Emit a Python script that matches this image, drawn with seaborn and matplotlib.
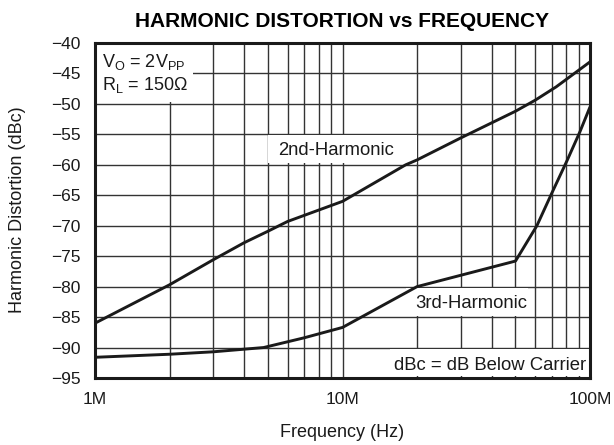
import numpy as np
import pandas as pd
import matplotlib
matplotlib.use("Agg")
import matplotlib.pyplot as plt
from matplotlib.patches import Rectangle
from matplotlib.ticker import FixedLocator, NullFormatter
import seaborn as sns

# values (frequency in MHz, distortion in dBc)
freq_2nd = [1, 2, 3, 4, 5, 6, 10, 18, 20, 30, 50, 60, 73, 100]
hd_2nd = [-86.0, -79.7, -75.6, -72.8, -70.9, -69.3, -66.0, -60.0, -59.2, -55.6, -51.2, -49.4, -47.2, -43.1]

freq_3rd = [1, 2, 3, 4.8, 7, 10, 20, 50, 61, 70, 81, 91, 100]
hd_3rd = [-91.6, -91.1, -90.7, -90.0, -88.4, -86.7, -80.0, -75.8, -70.0, -64.7, -59.2, -54.6, -50.5]

y_ticks = list(range(-40, -96, -5))
x_ticks = [1, 10, 100]
x_tick_labels = ["1M", "10M", "100M"]

df = pd.concat([
    pd.DataFrame({"freq": freq_2nd, "hd": hd_2nd, "series": "2nd"}),
    pd.DataFrame({"freq": freq_3rd, "hd": hd_3rd, "series": "3rd"}),
])

sns.set_style("white")
plt.rcParams["font.family"] = ["Liberation Sans", "DejaVu Sans"]
plt.rcParams["mathtext.fontset"] = "custom"
plt.rcParams["mathtext.rm"] = "Liberation Sans"
plt.rcParams["mathtext.it"] = "Liberation Sans"

INK = "#1a1a1a"
W, H = 614, 445
fig = plt.figure(figsize=(6.14, 4.45), dpi=100)
ax = fig.add_axes([95 / W, 1 - 378 / H, 495 / W, 335 / H])

sns.lineplot(data=df, x="freq", y="hd", units="series", estimator=None,
             color=INK, lw=2.1, ax=ax, zorder=5, legend=False)

ax.set_xscale("log")
ax.set_xlim(1, 100)
ax.set_ylim(-95, -40)

minor = [m * d for d in (1, 10) for m in range(2, 10)]
ax.xaxis.set_major_locator(FixedLocator(x_ticks))
ax.xaxis.set_minor_locator(FixedLocator(minor))
ax.xaxis.set_minor_formatter(NullFormatter())
ax.set_xticklabels(x_tick_labels)
ax.set_yticks(y_ticks)
ax.set_yticklabels([f"\u2212{abs(v)}" for v in y_ticks])

ax.grid(True, which="both", axis="x", color="#333333", lw=1.0)
ax.grid(True, which="major", axis="y", color="#333333", lw=1.0)
ax.tick_params(axis="both", which="both", length=0, labelsize=12.5, colors=INK)
ax.tick_params(axis="y", pad=10.5)
ax.tick_params(axis="x", pad=10)
for s in ax.spines.values():
    s.set_color(INK)
    s.set_linewidth(2.2)
    s.set_zorder(10)
ax.set_xlabel("")
ax.set_ylabel("")

fig.text(342 / W, 1 - 27 / H, "HARMONIC DISTORTION vs FREQUENCY", ha="center",
         va="baseline", fontsize=15, fontweight="bold", color="black")
fig.text(342 / W, 1 - 437 / H, "Frequency (Hz)", ha="center", va="baseline",
         fontsize=13, color=INK)
fig.text(18 / W, 1 - 210 / H, "Harmonic Distortion (dBc)", ha="center", va="center",
         rotation=90, fontsize=13, color=INK)

# white label boxes that mask the grid
for x0, x1, y0, y1 in [(5.0, 20.0, -59.7, -55.1), (18.0, 56.0, -84.8, -80.2), (15.5, 100, -94.7, -90.2)]:
    ax.add_patch(Rectangle((x0, y0), x1 - x0, y1 - y0, facecolor="white", edgecolor="none", zorder=3))
ax.add_patch(Rectangle((0, 1 - 59 / 335), 98 / 495, 59 / 335, transform=ax.transAxes,
                       facecolor="white", edgecolor="none", zorder=3))

ax.text(7 / 495, 1 - 24 / 335, r"V$_{\mathrm{O}}$ = 2V$_{\mathrm{PP}}$", transform=ax.transAxes,
        ha="left", va="baseline", fontsize=13, color=INK, zorder=6)
ax.text(7 / 495, 1 - 47 / 335, r"R$_{\mathrm{L}}$ = 150$\Omega$", transform=ax.transAxes,
        ha="left", va="baseline", fontsize=13, color=INK, zorder=6)
ax.text(9.46, -58.4, "2nd-Harmonic", ha="center", va="baseline", fontsize=13.3, color=INK, zorder=6)
ax.text(33.0, -83.5, "3rd-Harmonic", ha="center", va="baseline", fontsize=13.3, color=INK, zorder=6)
ax.text(96.4, -93.7, "dBc = dB Below Carrier", ha="right", va="baseline", fontsize=13.3,
        color=INK, zorder=6)

fig.savefig("out.png", dpi=100)
